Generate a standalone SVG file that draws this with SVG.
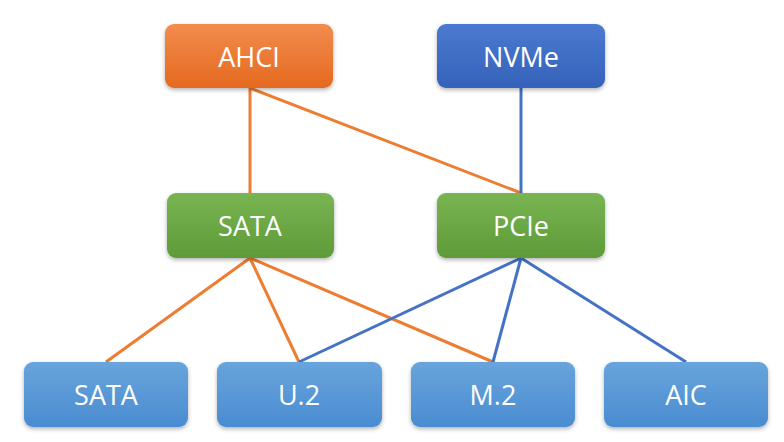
<svg xmlns="http://www.w3.org/2000/svg" width="784" height="442" viewBox="0 0 784 442">
<defs>
<linearGradient id="gO" x1="0" y1="0" x2="0" y2="1"><stop offset="0" stop-color="#F28C4E"/><stop offset="1" stop-color="#E5691F"/></linearGradient>
<linearGradient id="gB" x1="0" y1="0" x2="0" y2="1"><stop offset="0" stop-color="#4B7AD0"/><stop offset="1" stop-color="#3562BA"/></linearGradient>
<linearGradient id="gG" x1="0" y1="0" x2="0" y2="1"><stop offset="0" stop-color="#78B552"/><stop offset="1" stop-color="#5E9B38"/></linearGradient>
<linearGradient id="gL" x1="0" y1="0" x2="0" y2="1"><stop offset="0" stop-color="#68A4DC"/><stop offset="1" stop-color="#4A8CD1"/></linearGradient>
<filter id="sh" x="-10%" y="-10%" width="120%" height="130%"><feDropShadow dx="0" dy="2" stdDeviation="2" flood-color="#000" flood-opacity="0.3"/></filter>
</defs>
<style>
.n rect{filter:url(#sh)}
.n text{font-family:"Open Sans","Noto Sans",sans-serif;font-size:27px;fill:#fff;text-anchor:middle;dominant-baseline:central}
.o{stroke:#ED7D31;stroke-width:3;fill:none}
.b{stroke:#4472C4;stroke-width:3;fill:none}
</style>
<rect width="784" height="442" fill="#fff"/>
<g id="connectors">
<line class="o" x1="250" y1="88" x2="250" y2="193"/>
<line class="o" x1="250" y1="88" x2="521" y2="193"/>
<line class="b" x1="521" y1="88" x2="521" y2="193"/>
<line class="o" x1="250" y1="258" x2="106" y2="362"/>
<line class="o" x1="250" y1="258" x2="299" y2="362"/>
<line class="o" x1="250" y1="258" x2="493" y2="362"/>
<line class="b" x1="521" y1="258" x2="299" y2="362"/>
<line class="b" x1="521" y1="258" x2="493" y2="362"/>
<line class="b" x1="521" y1="258" x2="686" y2="362"/>
</g>
<g id="ahci" class="n"><rect x="165" y="24" width="168" height="64" rx="9" fill="url(#gO)"/><text x="249" y="56">AHCI</text></g>
<g id="nvme" class="n"><rect x="437" y="24" width="168" height="64" rx="9" fill="url(#gB)"/><text x="521" y="56">NVMe</text></g>
<g id="sata-mid" class="n"><rect x="167" y="193" width="167" height="65" rx="9" fill="url(#gG)"/><text x="250" y="225">SATA</text></g>
<g id="pcie" class="n"><rect x="437" y="193" width="168" height="65" rx="9" fill="url(#gG)"/><text x="521" y="225">PCIe</text></g>
<g id="sata" class="n"><rect x="24" y="362" width="164" height="65" rx="9" fill="url(#gL)"/><text x="106" y="394">SATA</text></g>
<g id="u2" class="n"><rect x="217" y="362" width="165" height="65" rx="9" fill="url(#gL)"/><text x="299" y="394">U.2</text></g>
<g id="m2" class="n"><rect x="411" y="362" width="164" height="65" rx="9" fill="url(#gL)"/><text x="493" y="394">M.2</text></g>
<g id="aic" class="n"><rect x="604" y="362" width="164" height="65" rx="9" fill="url(#gL)"/><text x="686" y="394">AIC</text></g>
</svg>
